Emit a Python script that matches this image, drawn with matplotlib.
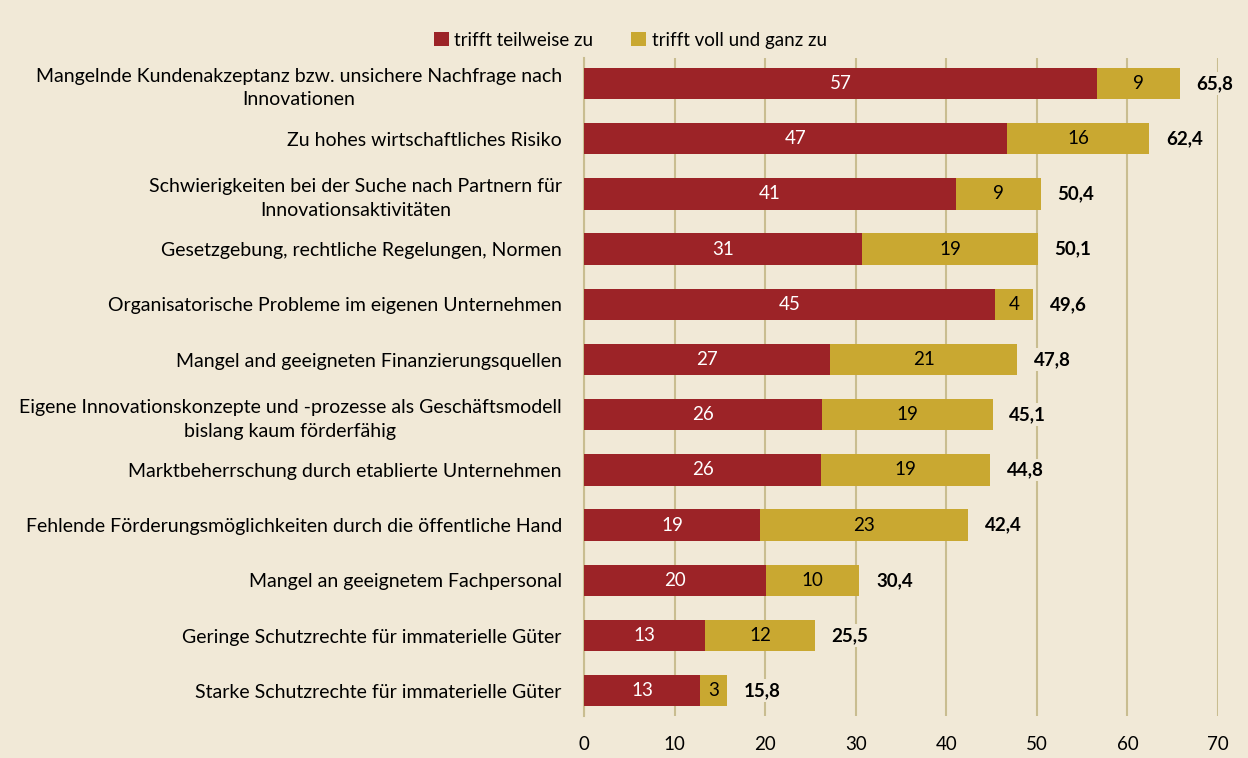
import matplotlib.pyplot as plt

# Hemmnisse fuer Innovationen, Anteile in Prozent
categories = [
    'Mangelnde Kundenakzeptanz bzw. unsichere Nachfrage nach\nInnovationen',
    'Zu hohes wirtschaftliches Risiko',
    'Schwierigkeiten bei der Suche nach Partnern für\nInnovationsaktivitäten',
    'Gesetzgebung, rechtliche Regelungen, Normen',
    'Organisatorische Probleme im eigenen Unternehmen',
    'Mangel and geeigneten Finanzierungsquellen',
    'Eigene Innovationskonzepte und -prozesse als Geschäftsmodell\nbislang kaum förderfähig',
    'Marktbeherrschung durch etablierte Unternehmen',
    'Fehlende Förderungsmöglichkeiten durch die öffentliche Hand',
    'Mangel an geeignetem Fachpersonal',
    'Geringe Schutzrechte für immaterielle Güter',
    'Starke Schutzrechte für immaterielle Güter',
]
teilweise = [56.6, 46.7, 41.1, 30.7, 45.4, 27.2, 26.3, 26.2, 19.4, 20.1, 13.4, 12.8]
voll = [9.2, 15.7, 9.3, 19.4, 4.2, 20.6, 18.8, 18.6, 23.0, 10.3, 12.1, 3.0]
gesamt = [65.8, 62.4, 50.4, 50.1, 49.6, 47.8, 45.1, 44.8, 42.4, 30.4, 25.5, 15.8]

bg = '#f1e9d7'
red = '#9c2327'
gold = '#c9a831'
grid = '#c9bd90'

plt.rcParams['font.family'] = ['Lato', 'DejaVu Sans']

fig = plt.figure(figsize=(12.48, 7.58), dpi=100, facecolor=bg)
ax = fig.add_axes([0.468, 0.056, 0.508, 0.868])
ax.set_facecolor(bg)

ypos = list(range(len(categories)))
b1 = ax.barh(ypos, teilweise, height=0.57, color=red, label='trifft teilweise zu', zorder=3)
b2 = ax.barh(ypos, voll, left=teilweise, height=0.57, color=gold,
             label='trifft voll und ganz zu', zorder=3)

ax.bar_label(b1, labels=[f'{v:.0f}' for v in teilweise], label_type='center',
             color='white', fontsize=13.5)
ax.bar_label(b2, labels=[f'{v:.0f}' for v in voll], label_type='center',
             color='black', fontsize=13.5)

for y, t in zip(ypos, gesamt):
    ax.annotate(f'{t:.1f}'.replace('.', ','), (t, y), xytext=(12, 0),
                textcoords='offset points', va='center', ha='left',
                fontsize=13.5, fontweight='bold', zorder=4,
                bbox=dict(boxstyle='square,pad=0.15', fc=bg, ec='none'))

ax.set_xlim(0, 70)
ax.set_ylim(11.45, -0.47)
ax.set_xticks(range(0, 71, 10))
ax.xaxis.grid(True, color=grid, linewidth=1.5, zorder=0)
ax.set_yticks(ypos)
ax.set_yticklabels(categories, fontsize=14)
for lbl in ax.get_yticklabels():
    lbl.set_multialignment('center')
    lbl.set_linespacing(1.45)
ax.tick_params(axis='y', length=0, pad=16)
ax.tick_params(axis='x', length=0, labelsize=13.5, pad=15)

for s in ['top', 'right', 'bottom']:
    ax.spines[s].set_visible(False)
ax.spines['left'].set_color(grid)
ax.spines['left'].set_linewidth(1.5)

fig.legend(handles=[b1, b2], loc='center', bbox_to_anchor=(0.505, 0.947), ncol=2,
           frameon=False, fontsize=13.5, handlelength=0.8, handleheight=0.8,
           handletextpad=0.3, columnspacing=2.0)

fig.savefig('out.png', dpi=100, facecolor=bg)
